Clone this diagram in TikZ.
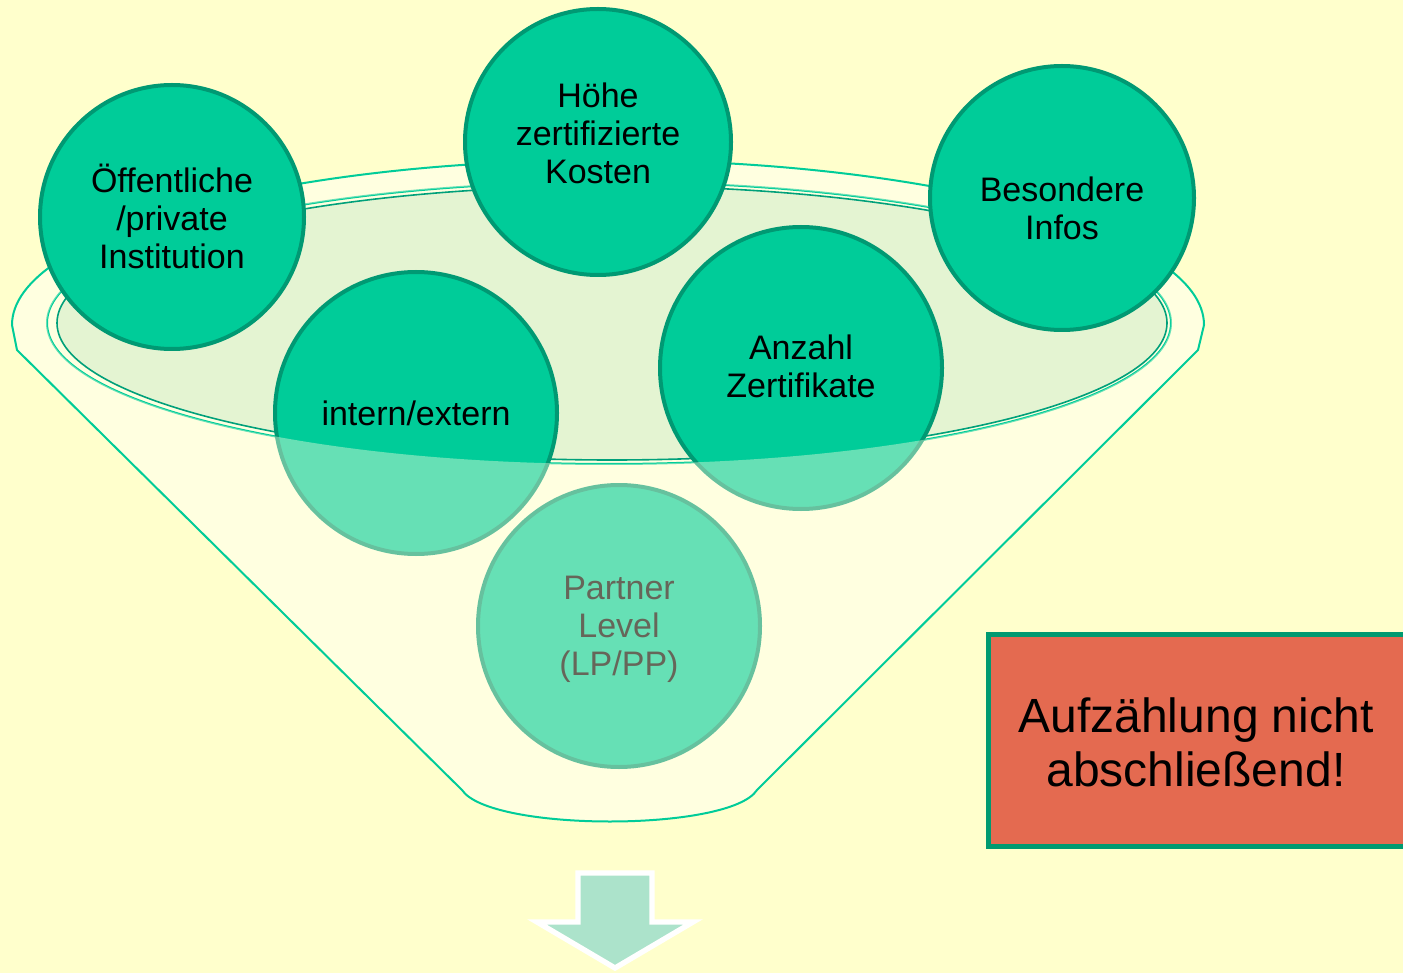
\documentclass[tikz,border=0pt]{standalone}
\usepackage{fontspec}
\setmainfont{Liberation Sans}
\definecolor{bgc}{HTML}{FFFFCC}
\definecolor{bodyc}{HTML}{FFFFE0}
\definecolor{rimline}{HTML}{00CC99}
\definecolor{innerfill}{HTML}{E4F4D2}
\definecolor{innerline}{HTML}{00A07A}
\definecolor{cfill}{HTML}{00CC99}
\definecolor{cline}{HTML}{009973}
\definecolor{redfill}{HTML}{E46A50}
\definecolor{redline}{HTML}{009A70}
\definecolor{arrowfill}{HTML}{ACE3CB}
\tikzset{
  bubble/.style={circle, fill=cfill, draw=cline, line width=3pt, inner sep=0pt, minimum size=#1},
  lbl/.style={font=\fontsize{25.5}{28.5}\selectfont, align=center, text=black, inner sep=0pt},
  redbox/.style={rectangle, fill=redfill, draw=redline, line width=3.75pt, minimum width=318pt, minimum height=159pt},
  redtext/.style={align=center, inner sep=0pt, font=\fontsize{36}{40.5}\selectfont},
  rim/.style={draw=rimline, line width=1.5pt},
}
\begin{document}
\begin{tikzpicture}[x=0.75pt,y=-0.75pt]
\useasboundingbox (0,0) rectangle (1403,973);
\fill[bgc] (0,0) rectangle (1403,973);
% funnel body
\fill[bodyc] (17,350) -- (12,325) arc[start angle=180,end angle=360,x radius=596,y radius=165] -- (1198,350) -- (757,790) .. controls (730,832) and (490,832) .. (462,790) -- cycle;
% inner rim
\draw[rim] (609,323) ellipse [x radius=562, y radius=141];
\draw[fill=innerfill, draw=innerline, line width=1.2pt] (612,323) ellipse [x radius=555, y radius=137];
% back circles
\node[bubble=211.5pt] (c4) at (416,413) {};
\node[bubble=211.5pt] (c5) at (801,368) {};
\node[bubble=211.5pt] (c6) at (619,626) {};
\node[lbl] (t4) at (416,413) {intern/extern};
\node[lbl] (t5) at (801,366) {Anzahl\\Zertifikate};
\node[lbl] (t6) at (619,629) {Partner\\Level\\(LP/PP)};
% translucent front of the funnel
\fill[bodyc, opacity=0.4, even odd rule] (17,350) -- (12,325) arc[start angle=180,end angle=360,x radius=596,y radius=165] -- (1198,350) -- (757,790) .. controls (730,832) and (490,832) .. (462,790) -- cycle (609,323) ellipse [x radius=562, y radius=141];
\draw[rim] (17,350) -- (12,325) arc[start angle=180,end angle=360,x radius=596,y radius=165] -- (1198,350) -- (757,790) .. controls (730,832) and (490,832) .. (462,790) -- cycle;
% front circles
\node[bubble=198pt] (c1) at (172,217) {};
\node[bubble=199.5pt] (c2) at (598,142) {};
\node[bubble=198pt] (c3) at (1062,198) {};
\node[lbl] (t1) at (172,216) {Öffentliche\\/private\\Institution};
\node[lbl] (t2) at (598,133) {Höhe\\zertifizierte\\Kosten};
\node[lbl] (t3) at (1062,208) {Besondere\\Infos};
% note box
\node[redbox] (note) at (1200,740.5) {};
\node[redtext] (notetext) at (1196,742) {Aufzählung nicht\\abschließend!};
% down arrow
\draw[fill=arrowfill, draw=white, line width=4pt, line join=miter] (578,873) -- (652,873) -- (652,922) -- (693,922) -- (615,968) -- (537,922) -- (578,922) -- cycle;
\end{tikzpicture}
\end{document}
